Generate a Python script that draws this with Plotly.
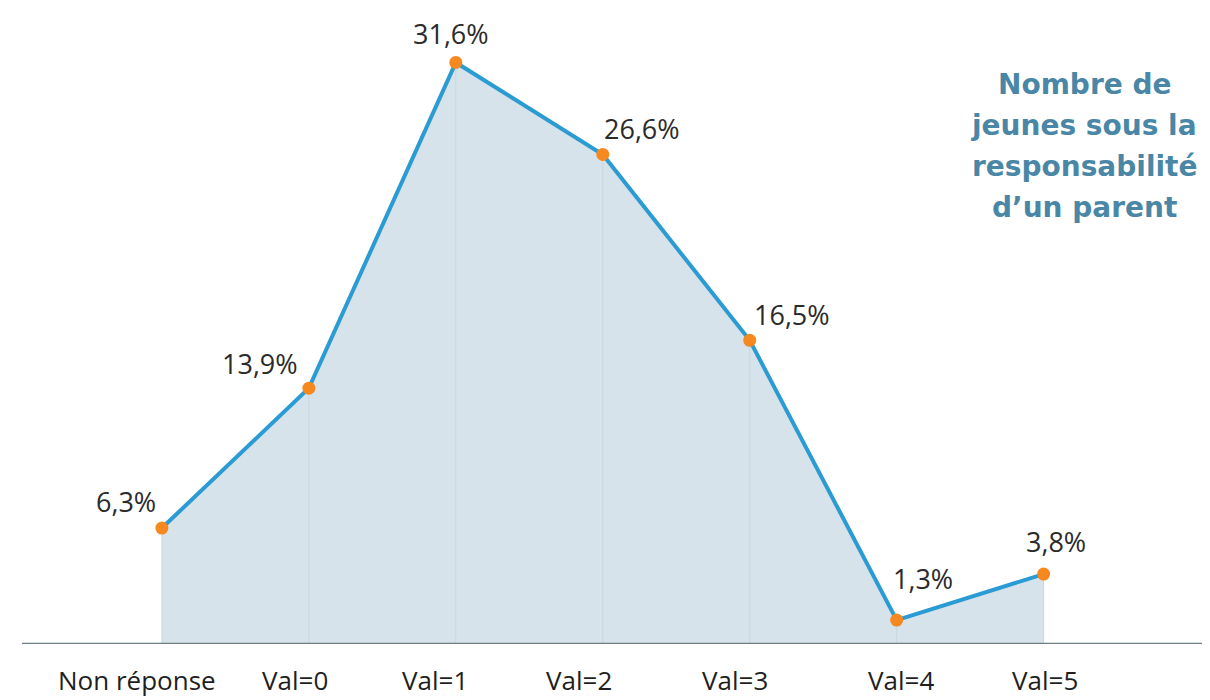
import plotly.graph_objects as go

categories = ["Non réponse", "Val=0", "Val=1", "Val=2", "Val=3", "Val=4", "Val=5"]
values = [6.3, 13.9, 31.6, 26.6, 16.5, 1.3, 3.8]
labels = ["6,3%", "13,9%", "31,6%", "26,6%", "16,5%", "1,3%", "3,8%"]
title_lines = ["Nombre de", "jeunes sous la", "responsabilité", "d’un parent"]

# pixel offsets of the value labels and category labels (style only)
label_dx = [-36, -49, -5, 39, 42, 26, 12]
label_dy = [27, 25, 29, 26, 26, 42, 33]
tick_dx = [-25, -14, -21, -24, -15, 4, 1]

xs = list(range(len(categories)))

# vertical guide lines from baseline to each point
gx, gy = [], []
for x, v in zip(xs, values):
    gx += [x, x, None]
    gy += [0, v, None]

fig = go.Figure()
fig.add_trace(go.Scatter(x=xs, y=values, mode="lines", fill="tozeroy",
                         fillcolor="#d7e3eb", line=dict(width=0), hoverinfo="skip"))
fig.add_trace(go.Scatter(x=gx, y=gy, mode="lines",
                         line=dict(color="#c9d7e0", width=1), hoverinfo="skip"))
fig.add_trace(go.Scatter(x=xs, y=values, mode="lines+markers",
                         line=dict(color="#2a9bd3", width=4),
                         marker=dict(color="#f5891f", size=13)))

for x, v, t, dx, dy in zip(xs, values, labels, label_dx, label_dy):
    fig.add_annotation(x=x, y=v, text=t, showarrow=False,
                       xshift=dx, yshift=dy, xanchor="center", yanchor="middle",
                       font=dict(family="Open Sans", size=27, color="#2b2b2b"))

for x, c, dx in zip(xs, categories, tick_dx):
    fig.add_annotation(x=x, y=0, text=c, showarrow=False,
                       xshift=dx, yshift=-36, xanchor="center", yanchor="middle",
                       font=dict(family="Open Sans", size=26, color="#1f1f1f"))

for i, line in enumerate(title_lines):
    fig.add_annotation(text=line, xref="paper", yref="paper",
                       x=0.898, y=0.905, yshift=-41 * i,
                       xanchor="center", yanchor="middle", showarrow=False,
                       font=dict(family="DejaVu Sans", size=28, color="#4a87a6", weight="bold"))

fig.update_layout(
    width=1210, height=700,
    margin=dict(l=14, r=13, t=18, b=64),
    paper_bgcolor="white", plot_bgcolor="white",
    showlegend=False,
    xaxis=dict(range=[-0.952, 7.098], showticklabels=False,
               showgrid=False, zeroline=False, showline=False),
    yaxis=dict(range=[0, 33.58], visible=False),
)
fig.add_hline(y=0, line=dict(color="#6f7f86", width=2.5))
fig.write_html("out.html")
